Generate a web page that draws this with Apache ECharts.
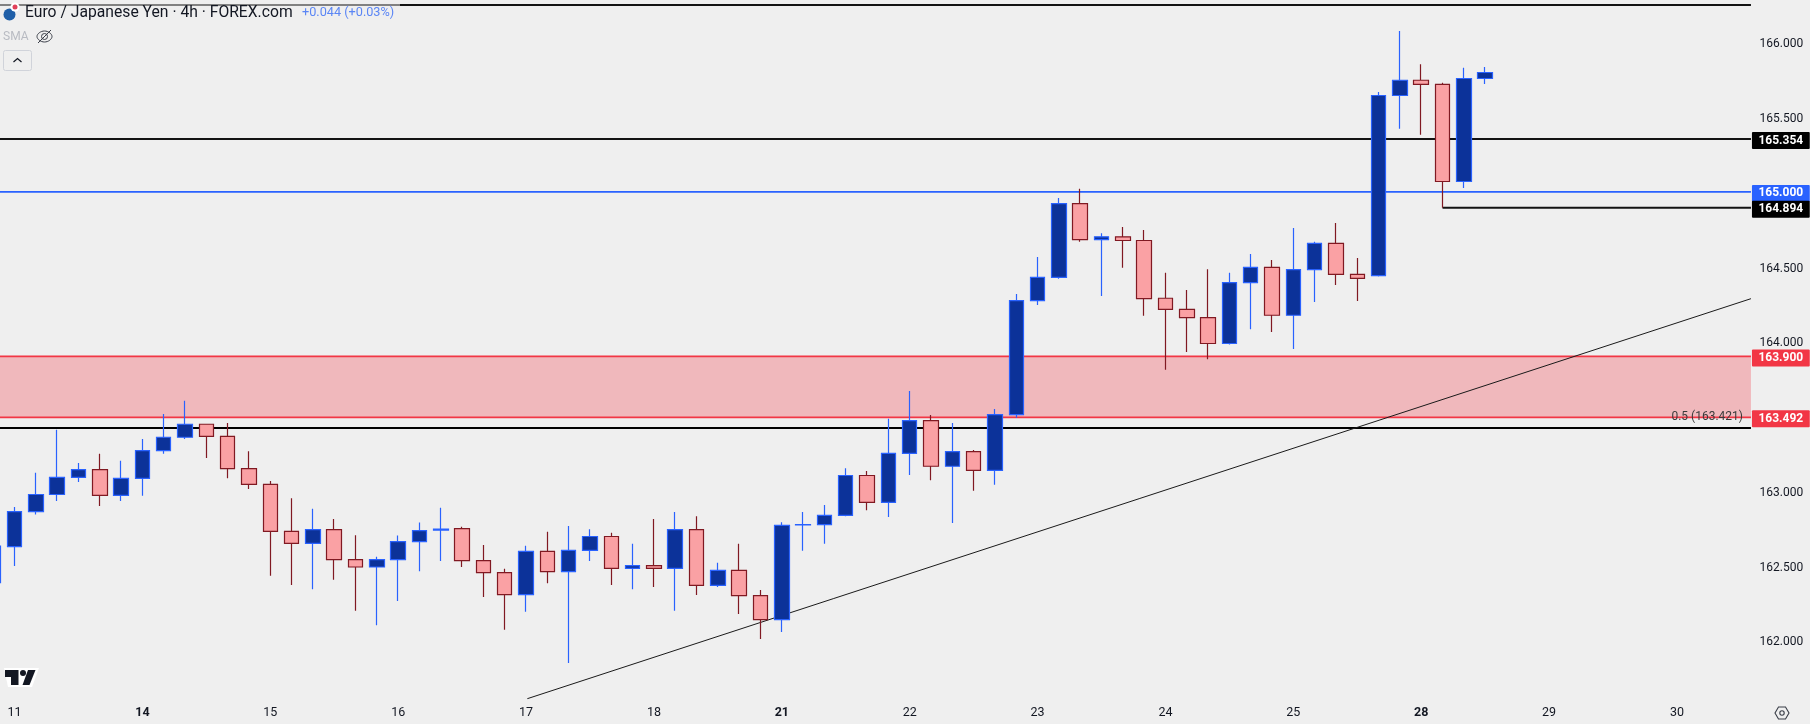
<!DOCTYPE html>
<html>
<head>
<meta charset="utf-8">
<title>EUR/JPY 4h</title>
<script src="https://cdn.jsdelivr.net/npm/echarts@6/dist/echarts.min.js"></script>
<style>
html,body{margin:0;padding:0;background:#efefef;}
#echarts{width:1810px;height:724px;}
</style>
</head>
<body>
<div id="echarts"></div>
<script>
// bar values, one entry per 4h bar
var opens = [162.386,162.627,162.862,162.976,163.090,163.143,162.970,163.084,163.270,163.359,163.446,163.365,163.149,163.044,162.729,162.649,162.741,162.541,162.491,162.541,162.661,162.738,162.748,162.534,162.454,162.306,162.596,162.460,162.602,162.695,162.482,162.500,162.482,162.741,162.368,162.469,162.300,162.139,162.772,162.775,162.837,163.103,162.924,163.251,163.470,163.165,163.263,163.137,163.511,164.273,164.428,164.922,164.681,164.700,164.675,164.289,164.215,164.159,163.986,164.394,164.496,164.175,164.480,164.656,164.449,164.440,165.645,165.747,165.719,165.070,165.759];
var closes = [162.630,162.862,162.976,163.090,163.143,162.970,163.084,163.270,163.359,163.446,163.365,163.149,163.044,162.729,162.649,162.741,162.541,162.491,162.541,162.661,162.735,162.745,162.534,162.454,162.306,162.596,162.460,162.602,162.695,162.482,162.500,162.482,162.741,162.368,162.469,162.300,162.139,162.769,162.775,162.837,163.103,162.924,163.251,163.470,163.165,163.263,163.137,163.511,164.273,164.428,164.922,164.681,164.700,164.675,164.286,164.215,164.159,163.986,164.394,164.496,164.175,164.480,164.656,164.449,164.422,165.645,165.747,165.719,165.070,165.759,165.799];
var lows = [162.346,162.497,162.843,162.933,163.060,162.899,162.933,162.967,163.248,163.347,163.220,163.084,163.013,162.432,162.371,162.343,162.405,162.198,162.102,162.263,162.463,162.531,162.491,162.290,162.071,162.192,162.383,161.849,162.531,162.371,162.343,162.358,162.198,162.303,162.358,162.176,162.009,162.056,162.599,162.646,162.830,162.871,162.825,163.106,163.072,162.785,163.001,163.041,163.489,164.243,164.419,164.666,164.304,164.493,164.171,163.810,163.930,163.881,163.980,164.082,164.063,163.949,164.264,164.378,164.270,164.435,165.422,165.382,164.894,165.027,165.722];
var highs = [162.670,162.893,163.121,163.409,163.186,163.248,163.202,163.347,163.514,163.603,163.450,163.455,163.266,163.066,162.951,162.880,162.812,162.704,162.559,162.701,162.788,162.887,162.760,162.639,162.479,162.633,162.726,162.766,162.744,162.720,162.646,162.812,162.859,162.831,162.519,162.646,162.337,162.791,162.859,162.905,163.152,163.134,163.483,163.668,163.507,163.455,163.273,163.548,164.317,164.564,164.959,165.021,164.724,164.765,164.746,164.459,164.344,164.483,164.459,164.585,164.545,164.758,164.666,164.792,164.558,165.669,166.077,165.855,165.731,165.830,165.836];

// every 6th slot gets a day label, starting at slot 1
var dayTicks = ['11','14','15','16','17','18','21','22','23','24','25','28','29','30'];
var boldDays = ['14','21','28'];
var priceTicks = [162,162.5,163,164,164.5,165.5,166];

var topLevel = 166.25;
var resistanceLevel = 165.354;
var roundLevel = 165;
var lowLevel = 164.894;
var zoneTop = 163.9;
var zoneBottom = 163.492;
var fibLevel = 163.421;
var fibText = '0.5 (163.421)';

// trendline end points, [bar slot, price]
var trendStart = [25.06,161.61];
var trendEnd = [82.47,164.286];
var lowLevelBar = 68;

var BAR_SLOTS = 83;
var LEFT_EDGE = -0.5;
var RIGHT_EDGE = 82.47;

var UP_FILL = '#0c3299';
var UP_LINE = '#2962ff';
var DOWN_FILL = '#faa1a4';
var DOWN_LINE = '#801922';
var TAG_RED = '#f23645';
var TAG_FONT = 'Roboto, "Liberation Sans", sans-serif';

function get_categories(){
    var cats = [];
    for(var i=0;i<BAR_SLOTS;i++){
        var k = (i-1)/6;
        if(k>=0 && k===Math.floor(k) && k<dayTicks.length){
            var day = dayTicks[k];
            cats.push(boldDays.indexOf(day)>=0 ? {value:day,textStyle:{fontWeight:'bold'}} : day);
        }else{
            cats.push('');
        }
    }
    return cats;
}

function get_candles(){
    var rows = [];
    for(var i=0;i<opens.length;i++){
        rows.push([opens[i],closes[i],lows[i],highs[i]]);
    }
    return rows;
}

function level_series(value,color,width,from,tag){
    var s = {
        type:'line',
        xAxisIndex:1,
        yAxisIndex:0,
        z:2,
        symbol:'none',
        silent:true,
        lineStyle:{color:color,width:width},
        data:[[from,value],[RIGHT_EDGE,value]]
    };
    if(tag){
        s.endLabel = {
            show:true,
            distance:1,
            offset:[0,1.5],
            formatter:value.toFixed(3),
            color:'#ffffff',
            fontFamily:TAG_FONT,
            fontSize:12,
            fontWeight:'bold',
            lineHeight:12,
            backgroundColor:tag,
            padding:[2.5,6.5,2.5,6.5],
            borderRadius:1
        };
    }
    return s;
}

function get_graphics(){
    return [
        // header overlay dims the top line under the title
        {type:'rect',z:20,shape:{x:0,y:0,width:400,height:9},style:{fill:'#efefef',opacity:0.5}},
        {type:'circle',z:21,shape:{cx:9.5,cy:14.5,r:6},style:{fill:'#1f5fa8'}},
        {type:'circle',z:21,shape:{cx:15,cy:7,r:4.5},style:{fill:'#ffffff'}},
        {type:'circle',z:22,shape:{cx:15,cy:7,r:2.5},style:{fill:'#e0405a'}},
        {type:'text',z:21,x:25,y:13,style:{text:'Euro / Japanese Yen · 4h · FOREX.com',fill:'#131722',font:'15.7px Roboto',textVerticalAlign:'middle'}},
        {type:'text',z:21,x:302,y:13,style:{text:'+0.044 (+0.03%)',fill:'#5b86f5',font:'12.7px Roboto',textVerticalAlign:'middle'}},
        {type:'text',z:21,x:3,y:37,style:{text:'SMA',fill:'#b8bbc2',font:'12px Roboto',textVerticalAlign:'middle'}},
        // crossed out eye
        {type:'polygon',z:21,shape:{points:[[37,36.5],[44.5,31],[52,36.5],[44.5,42]],smooth:0.5},style:{fill:'none',stroke:'#3a3e48',lineWidth:1}},
        {type:'circle',z:21,shape:{cx:44.5,cy:36.5,r:3},style:{fill:'none',stroke:'#3a3e48',lineWidth:1}},
        {type:'line',z:21,shape:{x1:38,y1:43,x2:51,y2:30},style:{stroke:'#3a3e48',lineWidth:1}},
        {type:'rect',z:21,shape:{x:3.5,y:50.5,width:28,height:20,r:2},style:{fill:'#efefef',stroke:'#d0d3da',lineWidth:1}},
        {type:'polyline',z:22,shape:{points:[[13.5,62],[17.5,58.5],[21.5,62]]},style:{fill:'none',stroke:'#131722',lineWidth:1.2}},
        // logo bottom left
        {type:'polygon',z:21,shape:{points:[[4,668],[39,668],[32,687],[8,687]]},style:{fill:'#ffffff'}},
        {type:'polygon',z:22,shape:{points:[[5,670],[18.5,670],[18.5,685],[11,685],[11,677],[5,677]]},style:{fill:'#131722'}},
        {type:'circle',z:22,shape:{cx:23,cy:673,r:3},style:{fill:'#131722'}},
        {type:'polygon',z:22,shape:{points:[[28,670],[35.5,670],[29.5,685],[22.5,685]]},style:{fill:'#131722'}},
        // settings icon bottom right
        {type:'polygon',z:21,shape:{points:[[1775,713],[1778.5,707],[1785.5,707],[1789,713],[1785.5,719],[1778.5,719]]},style:{fill:'none',stroke:'#3a3e48',lineWidth:1.1}},
        {type:'circle',z:21,shape:{cx:1782,cy:713,r:2.2},style:{fill:'none',stroke:'#3a3e48',lineWidth:1.1}}
    ];
}

function get_rank_echarts(){
    var myChart = echarts.init(document.getElementById('echarts'));
    var option = {
        animation:false,
        backgroundColor:'#efefef',
        textStyle:{fontFamily:'Roboto'},
        grid:{left:-17.47,top:0,width:1769.06,height:699,outerBoundsMode:'none'},
        xAxis:[
            {
                type:'category',
                data:get_categories(),
                axisLine:{show:false},
                axisTick:{show:false},
                splitLine:{show:false},
                axisLabel:{interval:0,color:'#131722',fontSize:12.5,margin:7,fontFamily:'Roboto'}
            },
            {
                type:'value',
                min:-0.5,
                max:82.5,
                show:false,
                splitLine:{show:false}
            }
        ],
        yAxis:{
            type:'value',
            position:'right',
            min:161.608,
            max:166.284,
            scale:true,
            axisLine:{show:false},
            axisTick:{show:false},
            splitLine:{show:false},
            axisLabel:{
                customValues:priceTicks,
                margin:8,
                verticalAlign:'top',
                lineHeight:4,
                color:'#131722',
                fontSize:12,
                fontFamily:'Roboto',
                formatter:function(v){return v.toFixed(3);}
            }
        },
        graphic:get_graphics(),
        series:[
            {
                type:'line',
                xAxisIndex:1,
                z:1,
                symbol:'none',
                silent:true,
                lineStyle:{width:0},
                data:[[LEFT_EDGE,zoneBottom],[RIGHT_EDGE,zoneBottom]],
                markArea:{
                    silent:true,
                    itemStyle:{color:'#f0b8bc'},
                    data:[[{xAxis:LEFT_EDGE,yAxis:zoneTop},{xAxis:RIGHT_EDGE,yAxis:zoneBottom}]]
                }
            },
            level_series(topLevel,'#131313',2,LEFT_EDGE,false),
            level_series(resistanceLevel,'#131313',2,LEFT_EDGE,'#000000'),
            level_series(roundLevel,UP_LINE,1.8,LEFT_EDGE,UP_LINE),
            level_series(lowLevel,'#131313',2,lowLevelBar,'#000000'),
            level_series(zoneTop,TAG_RED,1.8,LEFT_EDGE,TAG_RED),
            level_series(zoneBottom,TAG_RED,1.8,LEFT_EDGE,TAG_RED),
            {
                type:'line',
                xAxisIndex:1,
                z:2,
                symbol:'none',
                silent:true,
                lineStyle:{color:'#000000',width:2},
                data:[[LEFT_EDGE,fibLevel],[RIGHT_EDGE,fibLevel]],
                markPoint:{
                    silent:true,
                    symbol:'circle',
                    symbolSize:0,
                    label:{
                        show:true,
                        position:'left',
                        offset:[-8,-11],
                        distance:0,
                        formatter:fibText,
                        color:'#3a3a3a',
                        fontSize:12,
                        fontFamily:'Roboto'
                    },
                    data:[{coord:[RIGHT_EDGE,fibLevel]}]
                }
            },
            {
                type:'line',
                xAxisIndex:1,
                z:2,
                symbol:'none',
                silent:true,
                lineStyle:{color:'#1a1a1a',width:1},
                data:[trendStart,trendEnd]
            },
            {
                type:'candlestick',
                xAxisIndex:0,
                z:3,
                silent:true,
                barWidth:15,
                itemStyle:{
                    color:UP_FILL,
                    color0:DOWN_FILL,
                    borderColor:UP_LINE,
                    borderColor0:DOWN_LINE,
                    borderWidth:1.2
                },
                data:get_candles()
            }
        ]
    };
    myChart.setOption(option);
}

get_rank_echarts();
</script>
</body>
</html>
